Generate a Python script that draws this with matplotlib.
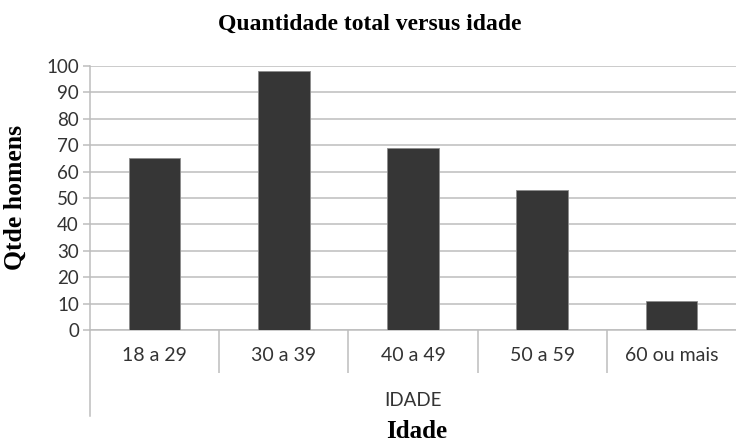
"""
Bar chart: quantidade total de homens por faixa de idade.
"""

import matplotlib
matplotlib.use('Agg')
import matplotlib.pyplot as plt

# dados
faixas = ['18 a 29', '30 a 39', '40 a 49', '50 a 59', '60 ou mais']
qtde = [65, 98, 69, 53, 11]
yticks = list(range(0, 101, 10))

W, H = 736, 442
GRAY = '#bdbdbd'


def plot_data():
    fig = plt.figure(figsize=(W / 100, H / 100), dpi=100)
    ax = fig.add_axes([90 / W, 1 - 330 / H, 1 - 90 / W, (330 - 66) / H])

    x = list(range(len(faixas)))
    ax.bar(x, qtde, width=0.4, color='#363636', edgecolor='#8c8c8c',
           linewidth=0.6, zorder=3)

    ax.set_xlim(-0.5, len(faixas) - 0.5)
    ax.set_ylim(0, 100)
    ax.set_yticks(yticks)
    ax.yaxis.grid(True, color=GRAY, linewidth=1.1)
    ax.set_axisbelow(True)

    for s in ['top', 'right']:
        ax.spines[s].set_visible(False)
    ax.spines['left'].set_color(GRAY)
    ax.spines['bottom'].set_color(GRAY)
    ax.spines['left'].set_linewidth(1.1)
    ax.spines['bottom'].set_linewidth(1.1)

    tick_font = 'Lato'
    ax.tick_params(axis='y', length=5, width=1.1, color=GRAY, labelsize=13.5,
                   pad=3, labelcolor='#333333')
    for lab in ax.get_yticklabels():
        lab.set_fontfamily(tick_font)

    ax.set_xticks(x)
    ax.set_xticklabels(faixas, fontfamily=tick_font, fontsize=14, color='#333333')
    ax.tick_params(axis='x', which='major', length=0, pad=12)
    # separadores de categoria
    ax.set_xticks([i + 0.5 for i in range(len(faixas) - 1)], minor=True)
    ax.tick_params(axis='x', which='minor', length=31, width=1.1, color=GRAY)

    # linha esquerda prolongada (eixo de categorias em dois niveis)
    ax.plot([0, 0], [0, -86 / 264], transform=ax.transAxes, color=GRAY,
            linewidth=1.1, clip_on=False)
    ax.text(0.5, -(400 - 330) / 264, 'IDADE', transform=ax.transAxes,
            ha='center', va='center', fontfamily=tick_font, fontsize=13.5,
            color='#333333')

    serif = 'Liberation Serif'
    fig.text(370 / W, 1 - 24 / H, 'Quantidade total versus idade',
             ha='center', va='center', fontfamily=serif, fontweight='bold',
             fontsize=17)
    fig.text(15 / W, 1 - 197 / H, 'Qtde homens', rotation=90,
             ha='center', va='center', fontfamily=serif, fontweight='bold',
             fontsize=18.5)
    fig.text(417 / W, 1 - 432 / H, 'Idade', ha='center', va='center',
             fontfamily=serif, fontweight='bold', fontsize=18)

    fig.savefig('out.png', dpi=100)


def main():
    plot_data()


if __name__ == '__main__':
    main()
